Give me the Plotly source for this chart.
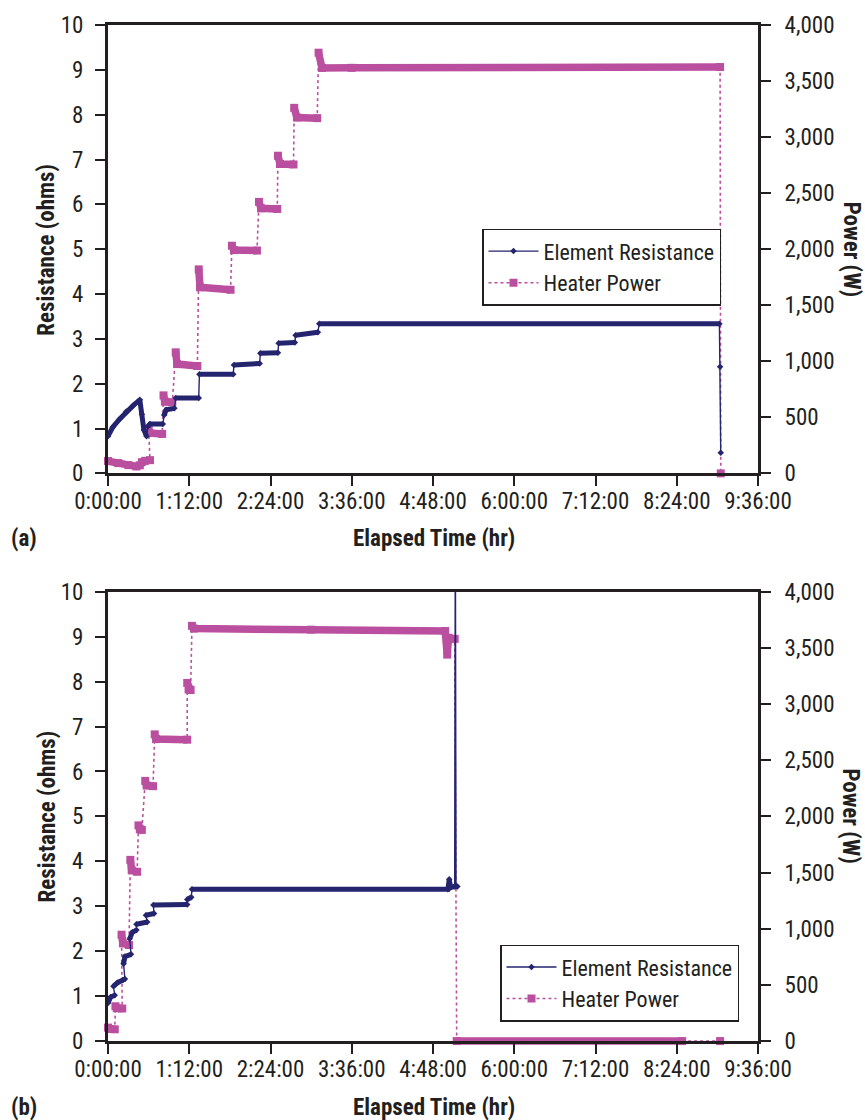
import plotly.graph_objects as go

# ---------------- data (time in hours) ----------------
# (a) Element Resistance
ra_time = [0.00, 0.07, 0.17, 0.27, 0.37, 0.47, 0.50, 0.53, 0.57,
           0.59, 0.62, 0.81,
           0.83, 0.86, 0.98,
           1.00, 1.34,
           1.35, 1.85,
           1.86, 2.24,
           2.25, 2.51,
           2.52, 2.76,
           2.77, 3.10,
           3.12, 9.03,
           9.04, 9.05]
ra_ohms = [0.83, 1.03, 1.21, 1.38, 1.51, 1.64, 1.32, 0.97, 0.83,
           1.05, 1.10, 1.10,
           1.30, 1.42, 1.45,
           1.68, 1.68,
           2.21, 2.21,
           2.42, 2.45,
           2.68, 2.69,
           2.90, 2.92,
           3.08, 3.15,
           3.34, 3.34,
           2.38, 0.46]
ra_step = [0, 0, 0, 0, 0, 0, 0, 0, 0,
           1, 1, 1,
           2, 2, 2,
           3, 3,
           4, 4,
           5, 5,
           6, 6,
           7, 7,
           8, 8,
           9, 9,
           10, 11]

# (a) Heater Power
pa_time = [0.00, 0.15, 0.30, 0.42, 0.47, 0.50, 0.55, 0.62,
           0.60, 0.61, 0.80,
           0.82, 0.84, 0.95,
           1.00, 1.02, 1.32,
           1.34, 1.36, 1.81,
           1.83, 1.86, 2.20,
           2.23, 2.26, 2.50,
           2.51, 2.54, 2.74,
           2.75, 2.79, 3.09,
           3.11, 3.16, 3.60, 9.04,
           9.05]
pa_watts = [110, 92, 74, 62, 72, 100, 112, 118,
            397, 360, 352,
            696, 640, 634,
            1080, 975, 958,
            1820, 1660, 1638,
            2031, 1992, 1988,
            2422, 2365, 2359,
            2834, 2760, 2756,
            3261, 3175, 3169,
            3753, 3617, 3618, 3625,
            0]
pa_step = [0, 0, 0, 0, 0, 0, 0, 0,
           1, 1, 1,
           2, 2, 2,
           3, 3, 3,
           4, 4, 4,
           5, 5, 5,
           6, 6, 6,
           7, 7, 7,
           8, 8, 8,
           9, 9, 9, 9,
           10]

# (b) Element Resistance
rb_time = [0.00, 0.04, 0.10,
           0.08, 0.14, 0.22, 0.25,
           0.23, 0.25, 0.34,
           0.32, 0.36, 0.42,
           0.42, 0.58,
           0.56, 0.68,
           0.67, 1.17,
           1.17, 1.23,
           1.24, 5.02, 5.04, 5.06, 5.12,
           5.13,
           5.14, 5.16]
rb_ohms = [0.85, 0.98, 1.02,
           1.22, 1.30, 1.36, 1.38,
           1.72, 1.88, 1.93,
           2.28, 2.42, 2.47,
           2.60, 2.65,
           2.80, 2.84,
           3.03, 3.04,
           3.15, 3.20,
           3.38, 3.38, 3.60, 3.42, 3.44,
           12.0,
           3.45, 3.44]
rb_step = [0, 0, 0,
           1, 1, 1, 1,
           2, 2, 2,
           3, 3, 3,
           4, 4,
           5, 5,
           6, 6,
           7, 7,
           8, 8, 8, 8, 8,
           9,
           10, 10]

# (b) Heater Power
pb_time = [0.00, 0.02, 0.10,
           0.11, 0.13, 0.21,
           0.20, 0.22, 0.31,
           0.33, 0.35, 0.43,
           0.45, 0.47, 0.50,
           0.55, 0.57, 0.665,
           0.69, 0.71, 1.17,
           1.17, 1.19, 1.22,
           1.24, 1.27, 3.00, 4.98, 5.01, 5.03, 5.12,
           5.15, 8.48,
           9.04]
pb_watts = [120, 108, 105,
            310, 292, 290,
            947, 870, 855,
            1613, 1520, 1507,
            1920, 1885, 1880,
            2316, 2275, 2269,
            2730, 2688, 2683,
            3188, 3130, 3125,
            3696, 3672, 3662, 3650, 3440, 3590, 3580,
            0, 0,
            0]
pb_step = [0, 0, 0,
           1, 1, 1,
           2, 2, 2,
           3, 3, 3,
           4, 4, 4,
           5, 5, 5,
           6, 6, 6,
           7, 7, 7,
           8, 8, 8, 8, 8, 8, 8,
           9, 9,
           10]

x_tickvals = [0, 1.2, 2.4, 3.6, 4.8, 6.0, 7.2, 8.4, 9.6]
x_ticktext = ["0:00:00", "1:12:00", "2:24:00", "3:36:00", "4:48:00",
              "6:00:00", "7:12:00", "8:24:00", "9:36:00"]
ohm_ticks = list(range(0, 11))
watt_ticks = list(range(0, 4001, 500))
OHM_MAX, WATT_MAX, HR_MAX = 10, 4000, 9.6

# ---------------- style ----------------
NAVY = "#25256f"
MAG = "#bb4f9f"
INK = "#231f20"
FONT = "Liberation Sans Narrow, Arial Narrow, Roboto Condensed, DejaVu Sans Condensed, sans-serif"
FS = 23

W, H = 865, 1120
ML, MR, MT, MB = 108, 107, 19, 64
PW, PH = W - ML - MR, H - MT - MB
A_TOP, A_BOT = 19, 470      # pixel rows of plot (a)
B_TOP, B_BOT = 589, 1041    # pixel rows of plot (b)
EXT = 10                    # extra px below zero so power marks on the axis are not clipped


def px_x(px):
    return (px - ML) / PW


def px_y(py):
    return (H - MB - py) / PH


fig = go.Figure()


def add_series(t, v, step, xa, ya, color, band_w, thin_style, marker, name, legend, rank, clip):
    groups = {}
    for ti, vi, si in zip(t, v, step):
        groups.setdefault(si, []).append((ti, vi))
    bx, by = [], []
    for si in groups:
        pts = groups[si]
        if len(pts) < 2:
            continue
        bx += [p[0] for p in pts] + [None]
        by += [p[1] for p in pts] + [None]
    fig.add_trace(go.Scatter(x=bx, y=by, mode="lines", xaxis=xa, yaxis=ya,
                             line=dict(color=color, width=band_w),
                             showlegend=False, hoverinfo="skip", connectgaps=False))
    fig.add_trace(go.Scatter(x=t, y=v, mode="lines+markers", xaxis=xa, yaxis=ya,
                             line=thin_style, marker=marker, name=name, cliponaxis=clip,
                             legend=legend, legendrank=rank))


power_line = dict(color=MAG, width=1.6, dash="dot")
power_marker = dict(symbol="square", size=8, color=MAG)
res_line = dict(color=NAVY, width=1.4)
res_marker = dict(symbol="diamond", size=5, color=NAVY)

# (a): power on y (right, extended below zero), resistance on y2 (left)
add_series(pa_time, pa_watts, pa_step, "x", "y", MAG, 7.5, power_line, power_marker,
           "Heater Power", "legend", 2, False)
add_series(ra_time, ra_ohms, ra_step, "x", "y2", NAVY, 5, res_line, res_marker,
           "Element Resistance", "legend", 1, True)
# (b): power on y3 (right), resistance on y4 (left)
add_series(pb_time, pb_watts, pb_step, "x2", "y3", MAG, 7.5, power_line, power_marker,
           "Heater Power", "legend2", 2, False)
add_series(rb_time, rb_ohms, rb_step, "x2", "y4", NAVY, 5, res_line, res_marker,
           "Element Resistance", "legend2", 1, True)

tickfont = dict(family=FONT, size=FS, color=INK)
xcommon = dict(range=[0, HR_MAX], tickmode="array", tickvals=x_tickvals, ticktext=x_ticktext,
               ticks="outside", ticklen=10, tickwidth=2, tickcolor=INK,
               showline=True, linewidth=3, linecolor=INK, mirror=True,
               showgrid=False, zeroline=False, tickfont=tickfont, domain=[0, 1],
               ticklabelstandoff=-5)


def ohm_axis(top, bot, anchor):
    return dict(range=[0, OHM_MAX], tickmode="array", tickvals=ohm_ticks, side="left",
                domain=[px_y(bot), px_y(top)], anchor=anchor,
                ticks="outside", ticklen=10, tickwidth=2, tickcolor=INK,
                showline=True, linewidth=3, linecolor=INK, mirror=True,
                showgrid=False, zeroline=False, tickfont=tickfont, ticklabelstandoff=7)


def watt_axis(top, bot, anchor):
    # same watt scale as the frame, extended a few px below zero
    low = -WATT_MAX * EXT / (bot - top)
    return dict(range=[low, WATT_MAX], tickmode="array", tickvals=watt_ticks, tickformat=",d",
                domain=[px_y(bot + EXT), px_y(top)], anchor=anchor, side="right",
                ticks="outside", ticklen=12, tickwidth=2, tickcolor=INK,
                showline=False, showgrid=False, zeroline=False,
                tickfont=tickfont, ticklabelstandoff=9)


fig.update_layout(
    width=W, height=H, margin=dict(l=ML, r=MR, t=MT, b=MB),
    paper_bgcolor="white", plot_bgcolor="rgba(0,0,0,0)",
    xaxis=dict(**xcommon, anchor="y2"),
    yaxis=watt_axis(A_TOP, A_BOT, "x"),
    yaxis2=ohm_axis(A_TOP, A_BOT, "x"),
    xaxis2=dict(**xcommon, anchor="y4"),
    yaxis3=watt_axis(B_TOP, B_BOT, "x2"),
    yaxis4=ohm_axis(B_TOP, B_BOT, "x2"),
    legend=dict(x=px_x(482), y=px_y(224), xanchor="left", yanchor="top",
                bgcolor="white", bordercolor=INK, borderwidth=1.5,
                font=dict(family=FONT, size=22, color=INK), itemwidth=50,
                tracegroupgap=0, traceorder="normal"),
    legend2=dict(x=px_x(500), y=px_y(944), xanchor="left", yanchor="top",
                 bgcolor="white", bordercolor=INK, borderwidth=1.5,
                 font=dict(family=FONT, size=22, color=INK), itemwidth=50,
                 tracegroupgap=0, traceorder="normal"),
    showlegend=True,
)

title_font = dict(family=FONT, size=FS, color=INK, weight="bold")
annos = [
    ("Resistance (ohms)", 47, 245, -90),
    ("Resistance (ohms)", 47, 815, -90),
    ("Power (W)", 851, 245, 90),
    ("Power (W)", 851, 815, 90),
    ("Elapsed Time (hr)", 434, 535, 0),
    ("Elapsed Time (hr)", 434, 1108, 0),
    ("(a)", 24, 535, 0),
    ("(b)", 24, 1108, 0),
]
for text, ax_, ay_, ang in annos:
    fig.add_annotation(text=text, x=px_x(ax_), y=px_y(ay_), xref="paper", yref="paper",
                       showarrow=False, textangle=ang, font=title_font,
                       xanchor="center", yanchor="middle")

fig.write_html("out.html")
